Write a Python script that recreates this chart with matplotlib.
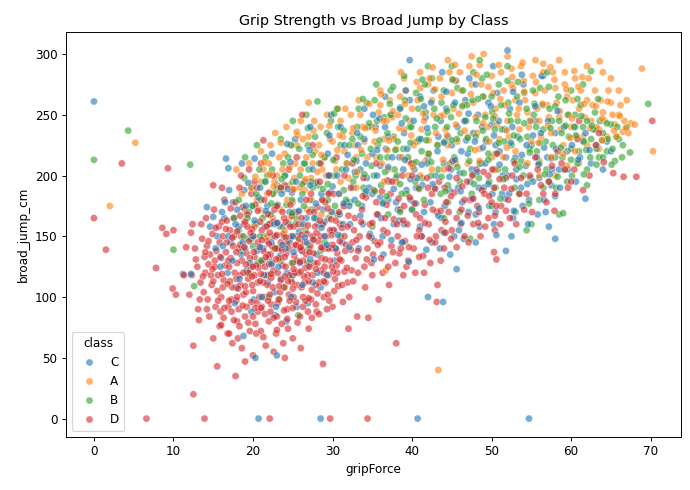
import numpy as np
import pandas as pd
import matplotlib
matplotlib.use("Agg")
import matplotlib.pyplot as plt
import seaborn as sns

# (gripForce, broad_jump_cm), per class
pts_C = [
    (15.5,150),(16.0,132),(16.4,165),(16.8,120),(17.2,145),(17.5,178),(17.9,108),(18.2,158),(18.5,135),(18.9,188),
    (19.2,122),(19.5,170),(19.8,148),(20.1,98),(20.4,160),(20.7,182),(21.0,128),(21.3,140),(21.6,195),(21.9,112),
    (22.2,168),(22.5,150),(22.8,85),(23.1,176),(23.4,134),(23.7,158),(24.0,200),(24.3,120),(24.6,145),(24.9,186),
    (25.2,170),(25.5,92),(25.8,154),(26.1,138),(26.4,210),(26.7,165),(27.0,126),(27.3,180),(27.6,148),(27.9,194),
    (28.2,160),(28.5,108),(28.8,172),(29.1,140),(29.4,218),(29.7,186),(30.0,155),(30.3,130),(30.6,200),(30.9,168),
    (31.2,145),(31.5,225),(31.8,178),(19.0,140),(20.0,175),(21.5,158),(22.0,132),(23.0,192),(24.5,160),(25.0,118),
    (26.0,180),(27.5,205),(28.0,135),(29.0,162),(17.0,188),(18.0,172),(16.2,142),(22.7,104),(24.2,80),(26.9,95),
    (23.5,115),
    (32.2,160),(32.6,190),(33.0,212),(33.3,140),(33.7,175),(34.0,230),(34.3,198),(34.7,152),(35.0,185),(35.4,240),
    (35.7,168),(36.0,208),(36.4,135),(36.7,222),(37.0,180),(37.4,250),(37.7,160),(38.0,198),(38.4,215),(38.7,145),
    (39.0,235),(39.3,188),(39.7,262),(40.0,172),(40.3,205),(40.7,228),(41.0,158),(41.3,192),(41.7,248),(42.0,215),
    (42.3,178),(42.7,270),(43.0,200),(43.3,232),(43.7,165),(44.0,210),(44.3,255),(44.7,188),(45.0,225),(45.3,150),
    (45.7,240),(46.0,202),(46.3,178),(46.7,262),(47.0,218),(47.3,195),(47.7,235),(48.0,168),(48.3,250),(48.7,210),
    (49.0,190),(49.3,228),(49.7,175),(50.0,242),(50.3,205),(50.7,268),(51.0,220),(51.3,185),(51.7,238),(52.0,200),
    (52.3,255),(52.7,165),(53.0,215),(53.3,232),(53.7,190),(54.0,275),(54.3,208),(54.7,180),(55.0,225),(55.5,245),
    (56.0,198),(56.5,282),(57.0,215),(57.5,192),(58.0,235),(58.5,205),(59.5,220),(60.5,240),(61.5,228),(63.0,238),
    (64.5,228),(56.3,282),(53.8,283),(39.0,160),(42.5,145),(44.8,135),(46.5,148),(48.5,158),(50.5,170),(36.0,182),
    (38.2,172),(40.5,190),(33.5,205),(35.0,218),(37.0,232),(31.0,240),(29.8,250),(45.5,278),(48.0,275),(41.0,265),
    (55.8,168),(57.2,158),(58.0,148),(61.8,181),(57.5,214),(51.8,138),(45.6,123),
    (14.6,158),(15.3,140),(15.9,125),(16.5,178),(16.9,150),(17.4,130),(17.8,160),(18.3,115),(18.7,145),(19.1,175),
    (19.6,128),(20.0,150),(20.5,138),(20.9,190),(21.4,118),(21.8,175),(22.3,145),(22.7,160),(23.2,125),(23.6,185),
    (24.1,140),(24.6,170),(25.0,150),(25.4,195),(25.9,128),(26.3,160),(26.8,145),(27.2,192),(27.7,165),(28.1,120),
    (28.6,185),(29.0,150),(29.5,200),(29.9,170),(30.4,140),(30.8,185),(31.3,160),(31.7,205),(32.1,175),(17.7,95),
    (19.8,88),(21.1,100),(22.9,92),(24.8,100),(26.2,110),(27.5,112),(29.3,118),(18.6,210),(22.4,218),(25.3,230),
    (32.8,180),(33.2,225),(33.8,160),(34.2,210),(34.6,190),(35.1,250),(35.6,200),(36.1,165),(36.6,240),(37.1,195),
    (37.5,215),(38.0,178),(38.5,255),(38.9,205),(39.4,222),(39.8,180),(40.2,245),(40.6,198),(41.1,230),(41.5,170),
    (41.9,210),(42.4,260),(42.8,190),(43.2,220),(43.6,245),(44.1,175),(44.5,232),(44.9,205),(45.4,260),(45.8,190),
    (46.2,220),(46.6,245),(47.1,170),(47.5,205),(47.9,228),(48.4,190),(48.8,240),(49.2,210),(49.6,260),(50.1,185),
    (50.5,225),(50.9,245),(51.4,200),(51.8,215),(52.2,185),(52.6,240),(53.1,205),(53.5,260),(53.9,175),(54.4,225),
    (54.8,245),(55.2,195),(55.7,215),(56.2,235),(56.6,180),(57.1,245),(57.6,205),(58.1,222),(58.6,190),(59.1,240),
    (59.6,205),(60.1,225),(60.6,195),(61.1,215),(61.8,235),(62.5,210),(63.2,225),(64.0,205),(65.0,220),(36.3,150),
    (38.8,145),(41.2,150),(43.5,140),(45.9,155),(48.0,145),(50.3,160),(52.5,150),(54.6,160),(56.8,170),(34.0,255),
    (36.6,265),(39.2,270),(43.8,285),(47.2,280),(50.2,290),
    (20.2,163),(20.9,141),(21.6,171),(22.3,127),(23.0,161),(23.7,143),(24.4,189),(25.1,137),(25.8,171),(26.5,149),
    (27.2,131),(27.9,177),(28.6,157),(29.3,143),(30.0,191),(30.7,151),(31.4,177),(32.1,141),(32.8,203),(33.5,167),
    (34.2,187),(34.9,149),(35.6,221),(36.3,177),(37.0,207),(37.7,189),(38.4,163),(39.1,213),(39.8,197),(40.5,177),
    (41.2,209),(41.9,239),(42.6,193),(43.3,167),(44.0,227),(44.7,199),(45.4,213),(46.1,187),(46.8,229),(47.5,181),
    (48.2,203),(48.9,223),(49.6,193),(50.3,233),(51.0,209),(51.7,181),(52.4,227),(53.1,197),(53.8,217),(54.5,193),
    (55.2,233),(55.9,209),(56.6,223),(57.3,201),(58.0,183),(35.2,131),(37.4,147),(39.6,129),(41.8,139),(44.0,153),
    (46.2,161),(48.4,173),(50.6,151),(52.8,171),(33.1,235),(35.9,247),(38.7,243),(41.5,257),(44.3,269),(47.1,251),
    (49.9,257),(52.7,269),(55.5,257),(58.3,253),(60.9,213),(62.3,221),(24.7,211),(27.1,221),(29.6,233),(31.9,217),
    (0.0,261),(20.7,0),(28.5,0),(40.7,0),(54.7,0),(52.0,303),(39.7,295),(11.2,119),(12.2,119),(16.6,214),
    (16.9,206),(20.2,214),(14.2,174),(15.0,166),(16.1,170),(19.4,194),(24.3,226),(27.2,240),(42.0,100),(43.9,96),
    (20.3,50),(23.0,52),(18.8,68),
]

pts_A = [
    (20.5,180),(21.0,195),(21.5,168),(22.0,210),(22.5,185),(23.0,200),(23.5,172),(24.0,218),(24.5,192),(25.0,178),
    (25.5,225),(26.0,205),(26.5,188),(27.0,232),(27.5,210),(28.0,195),(28.5,240),(29.0,215),(29.5,185),(30.0,228),
    (30.5,205),(31.0,245),(31.5,220),(32.0,198),(32.5,235),(33.0,215),(33.5,250),(34.0,228),(22.2,225),(23.8,188),
    (25.2,198),(26.8,172),(27.8,220),(29.2,200),(30.8,185),(24.6,165),(21.8,150),(26.2,158),(28.6,168),(31.6,175),
    (19.2,170),(18.6,185),(20.2,158),(23.2,140),(25.8,145),
    (19.8,190),(20.8,172),(21.3,205),(21.8,185),(22.7,195),(23.3,215),(23.7,205),(24.3,180),(24.8,225),(25.3,210),
    (25.9,190),(26.3,230),(26.7,215),(27.3,198),(27.7,245),(28.3,225),(28.7,205),(29.3,250),(29.7,230),(30.3,212),
    (30.7,255),(31.3,232),(31.8,210),(32.3,250),(32.8,225),(33.3,262),(33.8,240),(34.4,215),(21.0,220),(22.8,235),
    (24.2,240),(26.0,245),(22.5,165),(24.0,155),(27.2,180),(29.8,170),(31.0,195),(33.0,190),(19.5,210),(27.0,260),
    (35.0,240),(35.5,215),(36.0,258),(36.5,230),(37.0,205),(37.5,248),(38.0,222),(38.5,265),(39.0,238),(39.5,212),
    (40.0,255),(40.5,228),(41.0,272),(41.5,245),(42.0,218),(42.5,262),(43.0,235),(43.5,280),(44.0,250),(44.5,225),
    (45.0,268),(45.5,242),(46.0,285),(46.5,258),(47.0,232),(47.5,275),(48.0,248),(48.5,222),(49.0,265),(49.5,240),
    (50.0,282),(50.5,255),(51.0,230),(51.5,270),(52.0,245),(52.5,288),(53.0,262),(53.5,238),(54.0,278),(54.5,252),
    (55.0,228),(55.5,268),(56.0,245),(56.5,285),(57.0,258),(57.5,235),(58.0,272),(58.5,248),(59.0,225),(59.5,265),
    (60.0,240),(60.5,280),(61.0,255),(61.5,232),(62.0,262),(62.5,245),(63.0,270),(63.5,238),(64.0,252),(64.5,232),
    (65.0,260),(65.5,242),(66.0,250),(66.5,236),(67.5,243),(44.0,205),(47.0,210),(50.0,215),(53.0,220),(56.0,212),
    (59.0,218),(41.0,200),(38.0,195),(62.0,225),(49.0,300),(48.5,291),(59.2,285),(60.4,286),(63.6,294),(56.5,292),
    (52.5,275),(45.5,278),(42.0,275),(39.0,280),(36.0,270),(58.0,200),(61.0,210),
    (35.3,228),(35.8,252),(36.2,210),(36.8,245),(37.2,262),(37.7,230),(38.2,250),(38.7,215),(39.2,270),(39.7,245),
    (40.2,225),(40.7,262),(41.2,238),(41.7,212),(42.2,280),(42.7,250),(43.2,225),(43.7,265),(44.2,238),(44.7,285),
    (45.2,255),(45.7,228),(46.2,270),(46.7,245),(47.2,290),(47.7,260),(48.2,235),(48.7,275),(49.2,250),(49.7,228),
    (50.2,268),(50.7,242),(51.2,285),(51.7,258),(52.2,232),(52.7,272),(53.2,250),(53.7,290),(54.2,262),(54.7,240),
    (55.2,282),(55.7,255),(56.2,232),(56.7,270),(57.2,248),(57.7,285),(58.2,260),(58.7,238),(59.2,275),(59.7,250),
    (60.2,262),(60.7,232),(61.2,270),(61.7,248),(62.2,280),(62.7,258),(63.2,240),(63.7,262),(64.2,245),(64.7,270),
    (65.2,250),(65.7,232),(66.2,258),(66.7,245),(67.2,235),(68.0,242),(45.5,210),(48.5,212),(51.5,215),(54.5,210),
    (57.5,215),(60.5,220),(63.5,222),(42.5,205),(39.5,200),(36.5,195),(65.0,280),(62.0,290),(58.5,295),(55.5,295),
    (52.0,298),(47.5,298),(44.5,295),(41.0,285),(66.0,270),(67.0,262),(64.0,285),(50.5,205),(56.0,200),(59.5,208),
    (36.7,122),
    (20.3,199),(21.4,211),(22.6,191),(23.5,227),(24.6,207),(25.6,233),(26.6,197),(27.6,237),(28.6,217),(29.6,241),
    (30.6,221),(31.6,255),(32.6,239),(33.6,221),(34.6,259),(35.4,237),(36.1,267),(36.9,221),(37.6,253),(38.4,239),
    (39.1,259),(39.9,233),(40.6,277),(41.4,251),(42.1,229),(42.9,271),(43.6,249),(44.4,233),(45.1,279),(45.9,251),
    (46.6,237),(47.4,267),(48.1,283),(48.9,243),(49.6,273),(50.4,249),(51.1,263),(51.9,237),(52.6,281),(53.4,255),
    (54.1,269),(54.9,245),(55.6,277),(56.4,259),(57.1,241),(57.9,279),(58.6,253),(59.4,271),(60.1,247),(60.9,273),
    (61.6,259),(62.4,239),(63.1,257),(63.9,247),(64.6,261),(65.4,237),(66.1,249),(66.9,239),(40.1,207),(43.9,213),
    (47.9,221),(51.9,223),(55.9,227),(59.9,231),(63.9,229),(37.1,229),(34.1,239),(45.4,291),(50.9,291),(53.9,293),
    (57.4,289),(61.4,281),(38.6,285),(42.6,289),(33.1,203),(28.1,203),(25.1,189),(22.1,201),(30.9,233),(36.4,245),
    (2.0,175),(5.2,227),(17.9,205),(25.5,236),(43.3,40),(70.3,220),(68.9,288),
]

pts_B = [
    (18.2,155),(18.6,138),(19.0,172),(19.4,148),(19.8,190),(20.2,160),(20.6,128),(21.0,180),(21.4,150),(21.8,200),
    (22.2,168),(22.6,140),(23.0,188),(23.4,158),(23.8,210),(24.2,176),(24.6,148),(25.0,195),(25.4,165),(25.8,222),
    (26.2,185),(26.6,155),(27.0,205),(27.4,172),(27.8,232),(28.2,192),(28.6,160),(29.0,215),(29.4,180),(29.8,245),
    (30.2,200),(30.6,168),(31.0,225),(31.4,188),(31.8,210),(32.2,178),(20.0,142),(21.2,165),(22.5,185),(23.5,130),
    (24.0,200),(25.5,150),(26.5,210),(27.5,190),(28.5,138),(29.5,165),(19.5,120),(22.0,118),(24.8,115),(26.9,128),
    (23.2,98),(25.7,85),(21.6,215),(20.8,205),(18.9,198),
    (17.6,165),(18.2,180),(18.8,150),(19.3,165),(19.9,175),(20.4,185),(20.9,150),(21.5,195),(22.0,160),(22.4,205),
    (22.9,175),(23.4,190),(23.9,150),(24.4,215),(24.9,180),(25.3,160),(25.9,200),(26.4,175),(26.9,225),(27.3,195),
    (27.9,165),(28.3,210),(28.8,180),(29.3,235),(29.7,200),(30.3,175),(30.7,240),(31.2,205),(31.7,180),(32.1,225),
    (32.6,195),(33.1,240),(21.0,130),(23.0,140),(25.0,128),(27.0,140),(29.0,145),(31.0,150),(19.0,215),(20.5,225),
    (23.5,230),(25.0,245),(26.7,250),(22.0,100),(24.0,108),
    (32.5,230),(32.9,200),(33.3,255),(33.7,218),(34.1,185),(34.5,240),(34.9,208),(35.3,262),(35.7,225),(36.1,192),
    (36.5,248),(36.9,215),(37.3,270),(37.7,232),(38.1,200),(38.5,256),(38.9,222),(39.3,185),(39.7,240),(40.1,210),
    (40.5,268),(40.9,230),(41.3,198),(41.7,252),(42.1,218),(42.5,280),(42.9,240),(43.3,205),(43.7,260),(44.1,228),
    (44.5,192),(44.9,248),(45.3,215),(45.7,272),(46.1,235),(46.5,202),(46.9,258),(47.3,222),(47.7,285),(48.1,245),
    (48.5,210),(48.9,265),(49.3,230),(49.7,195),(50.1,252),(50.5,218),(50.9,275),(51.3,238),(51.7,205),(52.1,260),
    (52.5,225),(52.9,190),(53.3,245),(53.7,212),(54.1,268),(54.5,232),(54.9,198),(55.3,250),(55.7,220),(56.1,272),
    (56.5,238),(56.9,205),(57.3,255),(57.7,225),(58.1,190),(58.5,245),(58.9,215),(59.3,262),(59.7,232),(60.1,200),
    (60.5,250),(61.0,220),(61.5,240),(62.0,205),(62.5,230),(63.0,252),(63.5,215),(64.0,235),(64.5,220),(65.0,242),
    (65.5,212),(66.0,230),(66.5,225),(67.0,240),(62.5,286),(42.0,290),(48.5,295),(60.0,270),(56.0,180),(53.0,170),
    (50.0,175),(46.0,170),(44.0,165),(40.0,172),(37.0,168),(35.0,158),(55.0,160),(58.5,168),(59.0,169),(54.4,155),
    (47.3,148),(65.7,232),
    (33.5,232),(33.9,190),(34.3,260),(34.8,222),(35.2,200),(35.6,245),(36.0,215),(36.4,178),(36.9,235),(37.3,250),
    (37.8,205),(38.2,228),(38.7,185),(39.1,262),(39.5,215),(39.9,240),(40.4,195),(40.8,255),(41.2,220),(41.6,275),
    (42.0,235),(42.4,200),(42.8,255),(43.2,225),(43.6,185),(44.0,270),(44.4,240),(44.8,210),(45.2,258),(45.6,230),
    (46.0,195),(46.4,270),(46.8,245),(47.2,212),(47.6,262),(48.0,232),(48.4,198),(48.8,280),(49.2,248),(49.6,218),
    (50.0,265),(50.4,238),(50.8,205),(51.2,258),(51.6,228),(52.0,278),(52.4,245),(52.8,212),(53.2,265),(53.6,230),
    (54.0,200),(54.4,255),(54.8,222),(55.2,270),(55.6,240),(56.0,210),(56.4,258),(56.8,228),(57.2,195),(57.6,245),
    (58.0,215),(58.4,265),(58.8,235),(59.2,205),(59.6,250),(60.0,222),(60.4,240),(60.8,210),(61.2,258),(61.6,228),
    (62.0,245),(62.4,215),(62.8,238),(63.2,222),(63.6,245),(64.0,215),(64.6,230),(65.2,222),(65.8,240),(66.4,215),
    (38.5,170),(41.5,180),(44.5,178),(47.5,185),(50.5,190),(53.5,185),(56.5,190),(59.5,195),(62.0,192),(45.0,290),
    (52.0,290),(57.0,285),(39.0,282),(35.5,275),(61.5,275),
    (22.3,177),(23.6,197),(24.9,169),(26.2,193),(27.5,217),(28.8,189),(30.1,213),(31.4,237),(32.7,213),(34.0,201),
    (34.6,243),(35.3,187),(35.9,229),(36.6,203),(37.2,259),(37.9,221),(38.5,193),(39.2,247),(39.8,227),(40.5,211),
    (41.1,263),(41.8,229),(42.4,211),(43.1,247),(43.7,199),(44.4,253),(45.0,229),(45.7,207),(46.3,257),(47.0,231),
    (47.6,201),(48.3,263),(48.9,237),(49.6,213),(50.2,247),(50.9,227),(51.5,197),(52.2,251),(52.8,233),(53.5,207),
    (54.1,243),(54.8,219),(55.4,259),(56.1,227),(56.7,201),(57.4,239),(58.0,257),(58.7,223),(59.3,241),(60.0,213),
    (60.6,233),(61.3,249),(61.9,221),(62.6,241),(63.2,209),(63.9,229),(64.5,243),(65.1,209),(29.4,193),(33.2,177),
    (36.8,183),(40.9,189),(44.2,187),(47.8,193),(51.1,181),(54.7,177),(58.3,199),(61.6,201),(26.9,239),(30.2,251),
    (33.8,263),(37.6,273),(41.3,279),(45.1,279),(49.4,283),(53.3,277),(57.2,273),(60.8,263),(63.4,263),(24.8,225),
    (0.0,213),(4.3,237),(12.1,209),(10.0,139),(12.6,109),(69.7,259),(67.4,219),(28.1,261),(30.6,255),
]

pts_D = [
    (12.3,118),(12.0,102),(11.6,141),(12.8,131),(12.2,153),(13.1,90),(13.4,112),(13.0,125),(13.6,148),(13.2,81),
    (13.8,104),(13.5,160),(14.0,120),(14.3,98),(14.6,135),(14.2,142),(14.8,110),(14.5,84),(14.1,165),(14.9,152),
    (14.4,127),(15.0,66),(15.3,92),(15.6,118),(15.2,130),(15.8,145),(15.5,105),(15.1,172),(15.7,158),(15.9,88),
    (15.2,125),(16.0,100),(16.3,114),(16.6,137),(16.2,150),(16.8,70),(16.5,126),(16.1,162),(16.9,92),(16.4,180),
    (16.7,145),(16.3,83),(17.0,70),(17.4,108),(17.7,120),(17.2,132),(17.5,142),(17.1,155),(17.9,97),(17.6,165),
    (17.3,88),(17.0,125),(17.8,178),(17.4,62),(18.0,80),(18.3,118),(18.6,130),(18.2,140),(18.8,102),(18.5,150),
    (18.1,66),(18.9,160),(18.4,110),(18.7,174),(18.2,90),(18.0,128),(18.6,58),(18.3,190),(19.0,47),(19.4,115),
    (19.7,125),(19.2,136),(19.8,96),(19.5,146),(19.1,104),(19.9,156),(19.6,72),(19.3,168),(19.0,84),(19.8,185),
    (19.4,120),(20.0,52),(20.3,78),(20.6,112),(20.2,133),(20.8,141),(20.5,95),(20.1,150),(20.9,162),(20.4,70),
    (20.7,124),(20.3,176),(20.0,105),(20.6,88),(20.2,195),(21.0,72),(21.4,100),(21.7,118),(21.2,130),(21.8,146),
    (21.5,86),(21.1,155),(21.9,168),(21.6,60),(21.3,138),(21.8,110),(21.4,180),(22.0,80),(22.3,94),(22.6,122),
    (22.2,135),(22.8,150),(22.5,108),(22.1,160),(22.9,70),(22.4,142),(22.7,172),(22.3,116),(22.0,186),(22.6,55),
    (23.0,84),(23.4,104),(23.7,126),(23.2,140),(23.8,152),(23.5,114),(23.1,95),(23.9,165),(23.6,78),(23.3,132),
    (23.0,175),(23.8,62),(24.0,50),(24.3,90),(24.6,118),(24.2,136),(24.8,150),(24.5,102),(24.1,162),(24.9,128),
    (24.4,74),(24.7,176),(24.3,144),(24.0,192),(25.0,66),(25.4,96),(25.7,120),(25.2,134),(25.8,148),(25.5,110),
    (25.1,158),(25.9,84),(25.6,170),(25.3,142),(25.0,188),(26.0,58),(26.3,100),(26.6,124),(26.2,138),(26.8,152),
    (26.5,112),(26.1,165),(26.9,88),(26.7,180),(26.3,130),(27.0,74),(27.4,106),(27.7,128),(27.2,142),(27.8,158),
    (27.5,118),(27.1,170),(27.9,94),(27.6,136),(27.3,185),(28.0,88),(28.3,112),(28.6,132),(28.2,146),(28.8,160),
    (28.5,122),(28.1,174),(28.9,100),(28.4,195),(28.7,140),(29.4,102),(29.7,130),(29.2,150),(29.8,164),(29.5,118),
    (29.1,178),(29.9,140),(29.6,200),(30.0,92),(30.3,115),(30.6,136),(30.2,155),(30.8,170),(30.5,126),(30.1,185),
    (30.9,146),
    (12.7,140),(13.3,98),(13.9,133),(14.7,118),(14.2,90),(15.4,138),(15.8,76),(16.2,108),(16.6,156),(16.9,130),
    (17.3,98),(17.6,150),(17.9,115),(18.4,143),(18.8,120),(18.3,76),(19.2,92),(19.6,132),(19.9,110),(19.3,158),
    (20.4,126),(20.8,100),(20.2,118),(20.6,145),(21.1,92),(21.5,125),(21.9,135),(21.3,112),(21.7,158),(22.1,102),
    (22.4,128),(22.8,140),(22.2,88),(22.6,162),(23.1,120),(23.5,145),(23.9,108),(23.3,98),(23.7,170),(24.1,125),
    (24.5,140),(24.9,112),(24.3,82),(24.7,158),(25.1,100),(25.5,130),(25.9,140),(25.3,120),(25.7,160),(26.1,108),
    (26.5,145),(26.9,118),(26.3,92),(26.7,135),(27.1,125),(27.5,150),(27.9,110),(27.3,98),(27.7,170),(28.1,128),
    (28.5,150),(28.9,120),(28.3,86),(28.7,180),(29.1,112),(29.5,140),(29.9,125),(29.3,90),(29.7,155),(30.2,105),
    (30.6,120),(30.9,160),(30.4,140),(31.1,130),(31.5,150),(31.9,112),(31.3,96),(32.4,122),(32.7,155),(33.2,138),
    (18.5,200),(19.5,205),(20.5,190),(21.0,210),(22.5,200),(23.5,190),(24.5,205),(25.5,215),(26.5,195),(27.5,225),
    (28.5,210),(29.5,185),(30.5,215),(31.5,200),(32.5,210),
    (14.4,146),(14.9,123),(15.3,157),(15.6,97),(15.9,133),(16.1,119),(16.4,91),(16.7,163),(17.1,113),(17.4,149),
    (17.6,81),(17.9,137),(18.1,107),(18.4,167),(18.7,93),(18.9,141),(19.1,127),(19.4,79),(19.7,153),(19.9,117),
    (20.1,137),(20.3,91),(20.6,171),(20.9,113),(21.1,147),(21.3,67),(21.6,133),(21.9,97),(22.1,153),(22.3,119),
    (22.6,83),(22.9,131),(23.1,161),(23.3,109),(23.6,139),(23.9,89),(24.1,149),(24.4,113),(24.6,97),(24.9,167),
    (25.1,123),(25.4,143),(25.6,79),(25.9,129),(26.1,151),(26.4,117),(26.6,97),(26.9,159),(27.1,137),(27.4,83),
    (27.6,147),(27.9,123),(28.1,103),(28.4,163),(28.6,141),(28.9,113),(29.1,131),(29.4,173),(29.6,97),(29.9,151),
    (30.1,121),(30.4,163),(30.7,109),(30.9,131),(31.2,157),(31.5,121),(31.7,143),(32.0,167),(32.3,139),(32.6,113),
    (16.8,111),(17.2,173),(18.0,154),(19.0,162),(20.0,125),(21.0,119),(22.0,144),(23.0,151),(24.0,133),(25.0,107),
    (26.0,141),(27.0,113),(28.0,153),(29.0,125),(30.0,143),(13.7,117),(14.0,137),(15.0,113),(16.0,77),(17.0,97),
    (18.0,100),(19.0,109),(20.0,84),(21.0,91),(22.0,127),(23.0,73),(24.0,117),(25.0,91),(26.0,121),(27.0,99),
    (31.2,110),(31.6,138),(31.9,158),(31.4,175),(31.8,124),(32.1,100),(32.5,145),(32.8,165),(32.3,190),(32.9,132),
    (33.1,84),(33.4,150),(33.7,172),(33.2,120),(33.9,198),(34.1,108),(34.4,140),(34.7,160),(34.2,182),(34.9,128),
    (34.5,83),(35.0,118),(35.3,146),(35.6,168),(35.2,188),(35.8,98),(35.5,210),(36.1,132),(36.4,155),(36.8,176),
    (36.3,120),(36.9,196),(37.1,110),(37.4,142),(37.7,164),(37.3,185),(37.9,128),(38.2,150),(38.5,172),(38.8,200),
    (38.4,136),(38.9,118),(39.1,146),(39.4,160),(39.7,182),(39.3,125),(39.9,210),(40.2,140),(40.5,168),(40.8,190),
    (40.4,120),(40.9,155),(41.2,150),(41.6,176),(41.9,198),(41.4,134),(42.1,160),(42.5,185),(42.3,128),(42.9,145),
    (43.1,170),(43.4,195),(43.2,110),(43.7,155),(44.0,140),(44.3,178),(44.6,206),(44.2,162),(44.9,148),(45.3,186),
    (45.6,165),(45.1,212),(46.2,172),(46.6,150),(46.9,195),(47.3,180),(47.7,160),(48.1,205),(48.4,170),(48.8,188),
    (49.2,158),(49.6,200),(50.0,178),(50.4,155),(50.7,218),(50.3,190),(51.2,175),(51.8,198),(52.3,165),(52.9,210),
    (53.5,185),(54.1,172),(54.8,200),(55.5,215),(56.2,192),(56.9,178),(57.6,208),(58.3,220),(59.2,205),(60.0,195),
    (60.8,230),(61.5,188),(62.3,200),(63.1,225),(64.1,211),(65.3,202),(66.6,199),(68.2,199),(70.2,245),(63.5,235),
    (61.0,245),(57.9,171),(50.3,137),(50.6,131),(43.1,96),(32.0,74),
    (33.6,162),(34.0,125),(34.6,150),(35.1,135),(35.5,178),(36.0,145),(36.6,165),(37.0,125),(37.5,195),(38.1,160),
    (38.6,140),(39.0,175),(39.5,130),(40.0,200),(40.6,150),(41.0,165),(41.5,120),(42.0,190),(42.6,172),(43.0,150),
    (43.6,130),(44.1,190),(44.6,170),(45.0,155),(45.6,198),(46.1,160),(46.6,180),(47.1,145),(47.6,200),(48.2,175),
    (48.6,150),(49.1,185),(49.6,165),(50.1,205),(50.6,175),(51.1,160),(51.6,190),(52.1,180),(52.6,200),(53.1,160),
    (53.7,198),(54.4,185),(55.1,170),(55.8,205),(56.5,185),(57.2,195),(58.0,185),(58.8,210),(59.6,190),(60.4,205),
    (33.0,147),(33.8,183),(34.3,131),(35.0,161),(35.7,143),(36.2,187),(36.9,153),(37.6,137),(38.3,181),(38.9,163),
    (39.6,141),(40.3,177),(40.9,133),(41.6,161),(42.2,147),(42.9,189),(43.6,171),(44.2,153),(44.9,183),(45.6,141),
    (46.3,191),(47.0,167),(47.7,181),(48.3,161),(49.0,203),(49.7,183),(50.4,167),(51.0,197),(51.8,171),(52.5,189),
    (0.0,165),(1.5,139),(3.5,210),(6.6,0),(13.9,0),(22.1,0),(29.7,0),(34.4,0),(9.3,206),(7.8,124),
    (9.9,107),(10.3,102),(12.5,20),(12.5,60),(15.5,43),(17.8,35),(28.8,45),(38.0,62),(8.6,157),(9.1,152),
    (10.0,155),(12.4,160),(15.0,192),(16.1,190),(21.3,229),(26.2,250),(11.3,118),
]

hue_order = ["C", "A", "B", "D"]
class_pts = {"C": pts_C, "A": pts_A, "B": pts_B, "D": pts_D}

# mix the classes so the drawing order interleaves like in a real dataframe
rows = []
for cls in hue_order:
    p = class_pts[cls]
    for i, (g, j) in enumerate(p):
        rows.append(((i + 0.5) / len(p), cls, g, j))
rows.sort(key=lambda r: r[0])
df = pd.DataFrame([r[1:] for r in rows], columns=["class", "gripForce", "broad_jump_cm"])

fig = plt.figure(figsize=(8, 490 / 86.25), dpi=86.25)
ax = fig.add_axes([66 / 690, 1 - 437 / 490, 615 / 690, 405 / 490])
sns.scatterplot(data=df, x="gripForce", y="broad_jump_cm", hue="class",
                hue_order=hue_order, alpha=0.6, ax=ax)
ax.set_title("Grip Strength vs Broad Jump by Class")
ax.legend(title="class", loc="lower left")
fig.savefig("out.png", dpi=86.25)
